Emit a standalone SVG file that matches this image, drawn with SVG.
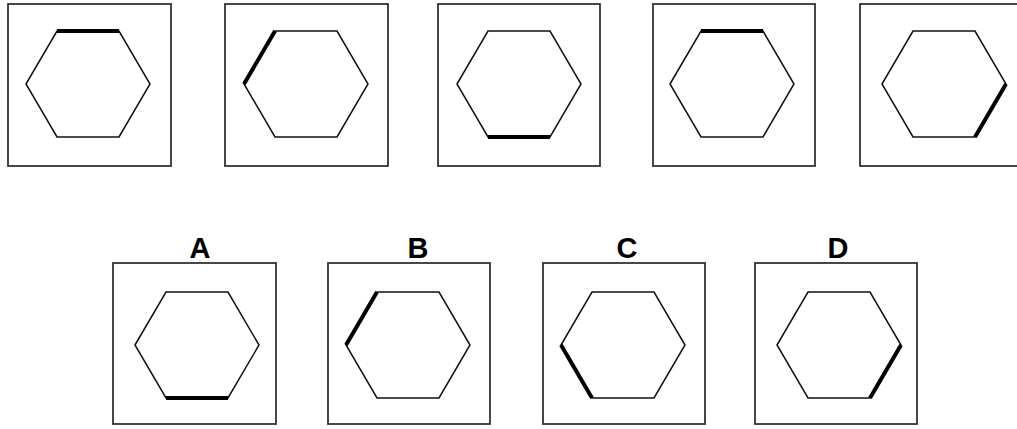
<svg xmlns="http://www.w3.org/2000/svg" xmlns:xlink="http://www.w3.org/1999/xlink" width="1017" height="429" viewBox="0 0 1017 429">
<style>
.frame{fill:none;stroke:#333;stroke-width:1.8}
.hex{fill:none;stroke:#111;stroke-width:1.5;stroke-linejoin:miter}
.thick{fill:none;stroke:#000;stroke-width:4;stroke-linecap:butt}
.lbl{font-family:"Liberation Sans",Arial,sans-serif;font-weight:bold;font-size:29px;fill:#000;text-anchor:middle}
</style>
<defs>
<path id="hx" class="hex" d="M0,0 L31,-53 L93,-53 L124,0 L93,53 L31,53 Z"/>
</defs>
<rect width="1017" height="429" fill="#fff"/>
<g id="box1"><rect class="frame" x="8" y="4" width="163" height="162"/><g transform="translate(26,84)"><use xlink:href="#hx"/><path class="thick" d="M31,-53 L93,-53"/></g></g>
<g id="box2"><rect class="frame" x="225" y="4" width="163" height="162"/><g transform="translate(244,84)"><use xlink:href="#hx"/><path class="thick" d="M0,0 L31,-53"/></g></g>
<g id="box3"><rect class="frame" x="438" y="4" width="162" height="162"/><g transform="translate(457,84)"><use xlink:href="#hx"/><path class="thick" d="M31,53 L93,53"/></g></g>
<g id="box4"><rect class="frame" x="653" y="4" width="162" height="162"/><g transform="translate(670,84)"><use xlink:href="#hx"/><path class="thick" d="M31,-53 L93,-53"/></g></g>
<g id="box5"><rect class="frame" x="860" y="4" width="163" height="162"/><g transform="translate(882,84)"><use xlink:href="#hx"/><path class="thick" d="M124,0 L93,53"/></g></g>
<g id="optA"><text class="lbl" x="200" y="258">A</text><rect class="frame" x="113" y="263" width="163" height="161"/><g transform="translate(135,345)"><use xlink:href="#hx"/><path class="thick" d="M31,53 L93,53"/></g></g>
<g id="optB"><text class="lbl" x="418" y="258">B</text><rect class="frame" x="328" y="263" width="162" height="161"/><g transform="translate(346,345)"><use xlink:href="#hx"/><path class="thick" d="M0,0 L31,-53"/></g></g>
<g id="optC"><text class="lbl" x="627" y="258">C</text><rect class="frame" x="543" y="263" width="162" height="161"/><g transform="translate(561,345)"><use xlink:href="#hx"/><path class="thick" d="M0,0 L31,53"/></g></g>
<g id="optD"><text class="lbl" x="838" y="258">D</text><rect class="frame" x="755" y="263" width="162" height="161"/><g transform="translate(777,345)"><use xlink:href="#hx"/><path class="thick" d="M124,0 L93,53"/></g></g>
<g id="connectors"/>
</svg>
